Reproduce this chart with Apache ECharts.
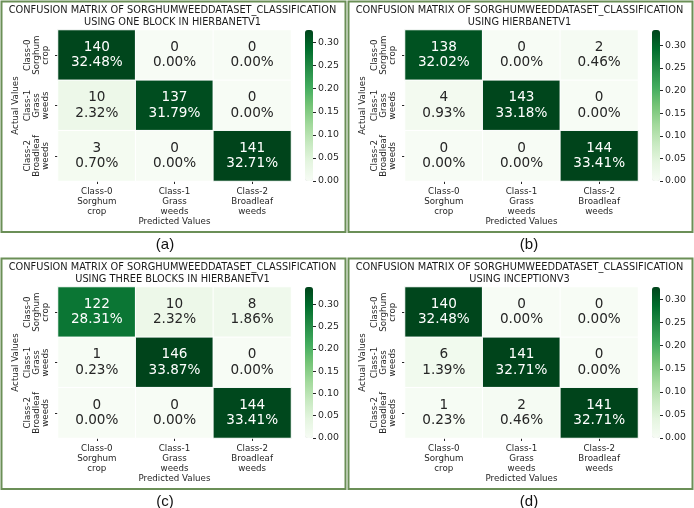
<!DOCTYPE html>
<html lang="en">
<head>
<meta charset="UTF-8">
<title>Confusion matrices</title>
<script src="https://cdn.jsdelivr.net/npm/echarts@6/dist/echarts.min.js"></script>
<style>
  html, body { margin: 0; padding: 0; background: #fff; }
</style>
</head>
<body>
<div id="main" style="width: 694px; height: 508px"></div>
<script>
// class names (same on both axes)
const classNames = ['Class-0\nSorghum\ncrop', 'Class-1\nGrass\nweeds', 'Class-2\nBroadleaf\nweeds'];

// counts, rows = actual, cols = predicted
const countsA = [[140, 0, 0], [10, 137, 0], [3, 0, 141]];
const countsB = [[138, 0, 2], [4, 143, 0], [0, 0, 144]];
const countsC = [[122, 10, 8], [1, 146, 0], [0, 0, 144]];
const countsD = [[140, 0, 0], [6, 141, 0], [1, 2, 141]];

const titles = [
    'CONFUSION MATRIX OF SORGHUMWEEDDATASET_CLASSIFICATION\nUSING ONE BLOCK IN HIERBANETV1',
    'CONFUSION MATRIX OF SORGHUMWEEDDATASET_CLASSIFICATION\nUSING HIERBANETV1',
    'CONFUSION MATRIX OF SORGHUMWEEDDATASET_CLASSIFICATION\nUSING THREE BLOCKS IN HIERBANETV1',
    'CONFUSION MATRIX OF SORGHUMWEEDDATASET_CLASSIFICATION\nUSING INCEPTIONV3'
];
const captions = ['(a)', '(b)', '(c)', '(d)'];
const colorbarTicks = [0, 0.05, 0.10, 0.15, 0.20, 0.25, 0.30];

// matplotlib "Greens"
const greens = ['#f7fcf5', '#e5f5e0', '#c7e9c0', '#a1d99b', '#74c476', '#41ab5d', '#238b45', '#006d2c', '#00441b'];

const FONT = 'DejaVu Sans';
const DARK = '#262626';

// panel origins (top-left of each framed box)
const panels = [
    { x: 0, y: 0, counts: countsA },
    { x: 347, y: 0, counts: countsB },
    { x: 0, y: 257, counts: countsC },
    { x: 347, y: 257, counts: countsD }
];

let chart = echarts.init(document.getElementById('main'));

// heatmap grids/axes get indices 0..3, colorbar grids/axes 4..7
let grid = [], xAxis = [], yAxis = [];
let cbGrid = [], cbX = [], cbY = [];
let series = [], visualMap = [], title = [], graphic = [];

panels.forEach(function (p, i) {
    let counts = p.counts;
    let total = 0, maxC = 0;
    counts.forEach(r => r.forEach(v => { total += v; maxC = Math.max(maxC, v); }));
    let vmax = maxC / total;

    let gl = p.x + 58, gt = p.y + 30, gw = 233, gh = 151;
    grid.push({ left: gl, top: gt, width: gw, height: gh });

    xAxis.push({
        type: 'category', gridIndex: i, data: classNames, position: 'bottom',
        axisLine: { show: false },
        axisTick: { show: true, alignWithLabel: true, length: 3, lineStyle: { color: DARK } },
        axisLabel: { fontFamily: FONT, fontSize: 8.7, color: DARK, lineHeight: 9.8, margin: 6, interval: 0 },
        splitLine: { show: false },
        name: 'Predicted Values', nameLocation: 'middle', nameGap: 35,
        nameTextStyle: { fontFamily: FONT, fontSize: 8.7, color: DARK }
    });
    yAxis.push({
        type: 'category', gridIndex: i, data: classNames, inverse: true,
        axisLine: { show: false },
        axisTick: { show: true, alignWithLabel: true, length: 3, lineStyle: { color: DARK } },
        axisLabel: { fontFamily: FONT, fontSize: 8.7, color: DARK, lineHeight: 8.8, rotate: 90, margin: 8, interval: 0 },
        splitLine: { show: false },
        name: 'Actual Values', nameLocation: 'middle', nameGap: 38, nameRotate: 90,
        nameTextStyle: { fontFamily: FONT, fontSize: 8.7, color: DARK }
    });

    let data = [];
    counts.forEach(function (row, r) {
        row.forEach(function (c, col) {
            let frac = c / total;
            data.push({
                value: [col, r, frac],
                count: c,
                label: { color: frac / vmax > 0.55 ? '#ffffff' : DARK }
            });
        });
    });

    series.push({
        type: 'heatmap', xAxisIndex: i, yAxisIndex: i, data: data,
        itemStyle: { borderColor: '#ffffff', borderWidth: 1 },
        emphasis: { disabled: true },
        label: {
            show: true, fontFamily: FONT, fontSize: 13.6, lineHeight: 15.5,
            formatter: function (pr) {
                return pr.data.count + '\n' + (pr.data.value[2] * 100).toFixed(2) + '%';
            }
        }
    });

    visualMap.push({
        type: 'continuous', seriesIndex: i, dimension: 2, min: 0, max: vmax,
        calculable: false, realtime: false, hoverLink: false,
        orient: 'vertical', left: p.x + 305, top: gt, padding: 0,
        itemWidth: 8, itemHeight: gh, text: null, showLabel: false,
        inRange: { color: greens }
    });

    // colorbar tick axis, laid over the visualMap bar
    let cbIdx = 4 + i;
    cbGrid.push({ left: p.x + 305, top: gt, width: 8, height: gh });
    cbX.push({ type: 'value', gridIndex: cbIdx, show: false, min: 0, max: 1 });
    cbY.push({
        type: 'value', gridIndex: cbIdx, position: 'right', min: 0, max: vmax,
        axisLine: { show: false, onZero: false },
        splitLine: { show: false },
        axisTick: { show: true, length: 3, customValues: colorbarTicks, lineStyle: { color: DARK } },
        axisLabel: {
            fontFamily: FONT, fontSize: 9.4, color: DARK, margin: 5,
            customValues: colorbarTicks, formatter: v => v.toFixed(2)
        }
    });

    let cx = gl + gw / 2 - 2;
    title.push({
        text: titles[i], left: cx, top: p.y + 4, textAlign: 'center', padding: 0,
        textStyle: { fontFamily: FONT, fontSize: 9.8, fontWeight: 'normal', color: '#1a1a1a', lineHeight: 12 }
    });
    title.push({
        text: captions[i], left: p.x + (i % 2 === 0 ? 165 : 182), top: p.y + 237, textAlign: 'center', padding: 0,
        textStyle: { fontFamily: 'Liberation Sans', fontSize: 15, fontWeight: 'normal', color: '#111' }
    });

    graphic.push({
        type: 'rect', silent: true,
        shape: { x: p.x + 1.5, y: p.y + 1.5, width: 344, height: 230.5 },
        style: { fill: 'none', stroke: '#6b8f57', lineWidth: 2 }
    });
});

let option = {
    animation: false,
    backgroundColor: '#ffffff',
    title: title,
    grid: grid.concat(cbGrid),
    xAxis: xAxis.concat(cbX),
    yAxis: yAxis.concat(cbY),
    visualMap: visualMap,
    series: series,
    graphic: graphic
};
chart.setOption(option);
</script>
</body>
</html>
